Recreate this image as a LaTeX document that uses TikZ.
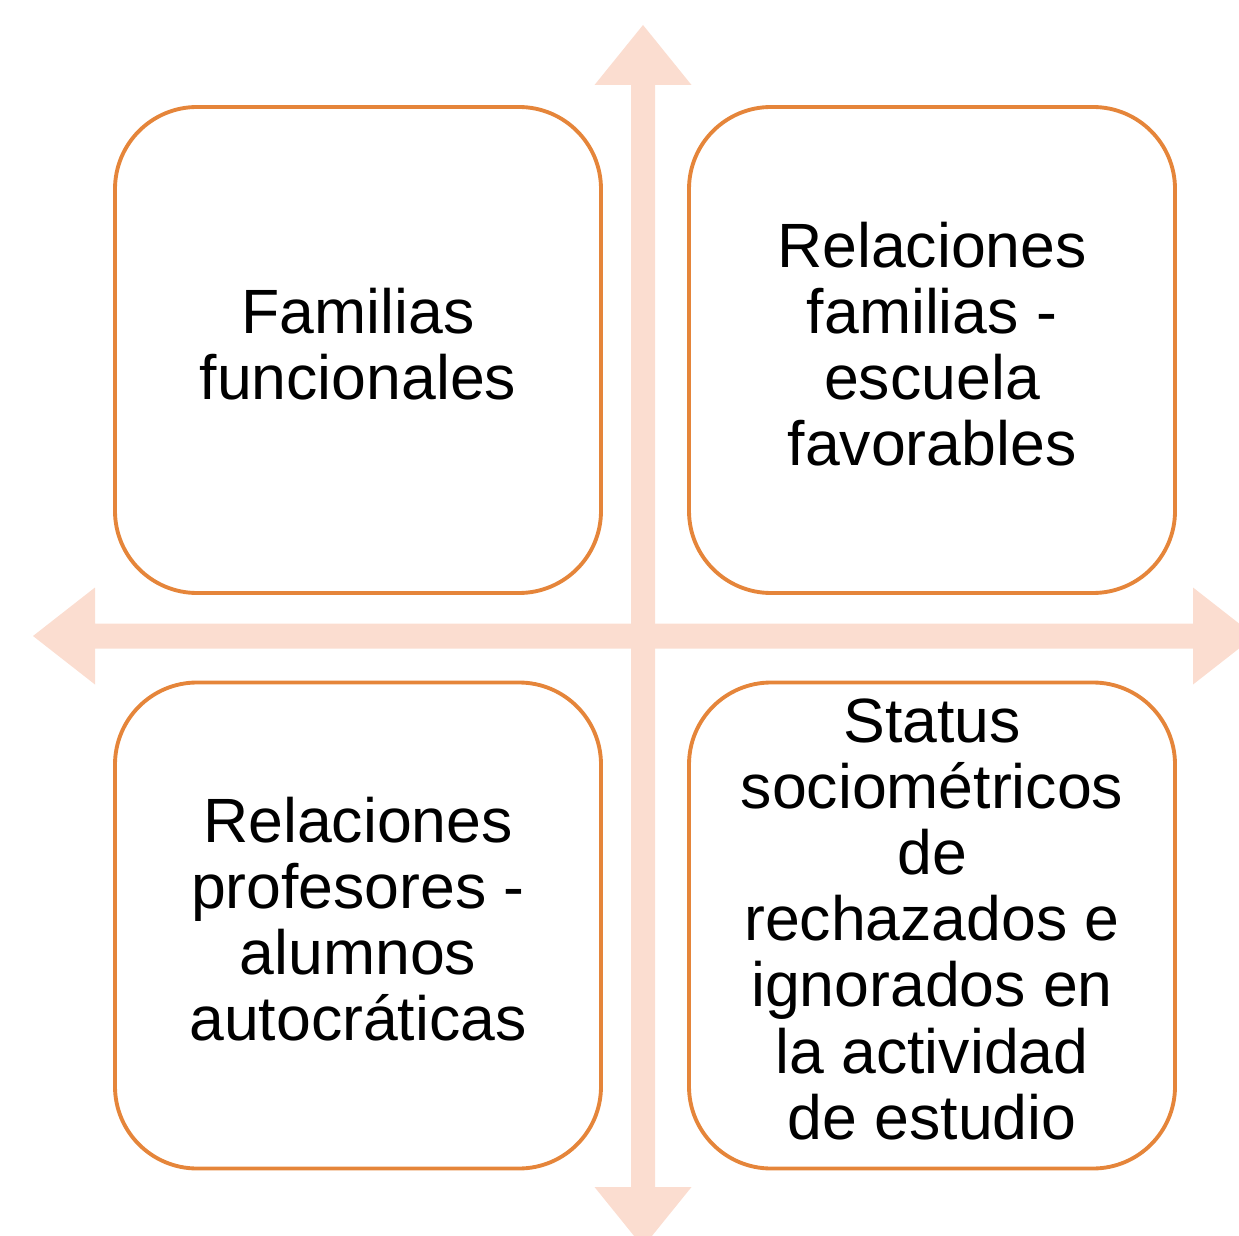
\documentclass[tikz,border=0pt]{standalone}
\usepackage{fontspec}
\setmainfont{Liberation Sans}
\definecolor{boxorange}{RGB}{229,133,58}
\definecolor{crosspeach}{RGB}{251,221,208}
\newcommand*{\PlaceBoxes}[1]{% #1 = list of name/x/y/text
  \foreach \name/\x/\y/\txt in {#1} {
    \node [quadbox] (\name) at (\x,\y) {\txt};
    }%
}

\begin{document}
\begin{tikzpicture}[
    quadbox/.style={draw=boxorange, line width=1.1pt, rounded corners=0.82cm,
      minimum width=4.86cm, minimum height=4.86cm, inner sep=0pt,
      align=center, font=\fontsize{17.8}{18.8}\selectfont,
      execute at end node=\vphantom{g}}
  ]
  \useasboundingbox (0,0) rectangle (12.39,12.35);
  % cross of double arrows behind the boxes
  \fill [crosspeach] (6.31,0.48) -- (6.31,11.50) -- (5.945,11.50) -- (6.43,12.10)
    -- (6.915,11.50) -- (6.55,11.50) -- (6.55,0.48) -- (6.915,0.48)
    -- (6.43,-0.12) -- (5.945,0.48) -- cycle;
  \fill [crosspeach] (0.95,5.865) -- (11.93,5.865) -- (11.93,5.505) -- (12.55,5.99)
    -- (11.93,6.475) -- (11.93,6.115) -- (0.95,6.115) -- (0.95,6.475)
    -- (0.33,5.99) -- (0.95,5.505) -- cycle;
  \PlaceBoxes{tl/3.58/8.85/{Familias\\funcionales},
    tr/9.32/8.85/{Relaciones\\familias -\\escuela\\favorables}}
  \PlaceBoxes{bl/3.58/3.095/{Relaciones\\profesores -\\alumnos\\autocráticas},
    br/9.32/3.095/{Status\\sociométricos\\de\\rechazados e\\ignorados en\\la actividad\\de estudio}}
\end{tikzpicture}
\end{document}
